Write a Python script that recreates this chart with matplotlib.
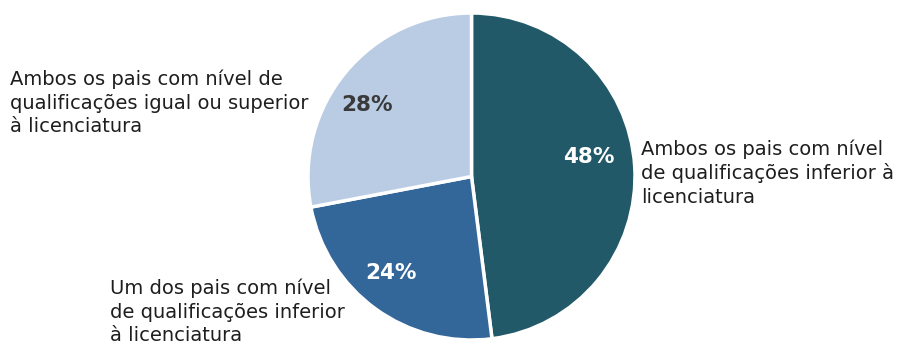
import matplotlib.pyplot as plt

# shares of each group, in drawing order (clockwise from the top)
labels = [
    "Ambos os pais com nível\nde qualificações inferior à\nlicenciatura",
    "Um dos pais com nível\nde qualificações inferior\nà licenciatura",
    "Ambos os pais com nível de\nqualificações igual ou superior\nà licenciatura",
]
shares = [48, 24, 28]
colors = ["#225968", "#336699", "#B9CCE4"]
pct_colors = ["white", "white", "#3A3A3A"]

plt.rcParams["font.family"] = ["DejaVu Sans"]

W, H = 897, 345
fig = plt.figure(figsize=(W / 100, H / 100), dpi=100)
fig.patch.set_facecolor("white")

cx, cy, r = 471.5, 176.5, 163.5
ax = fig.add_axes([(cx - r) / W, (H - cy - r) / H, 2 * r / W, 2 * r / H])
wedges, _, autotexts = ax.pie(
    shares,
    colors=colors,
    startangle=90,
    counterclock=False,
    autopct="%d%%",
    pctdistance=0.76,
    wedgeprops={"edgecolor": "white", "linewidth": 2.5, "clip_on": False},
)
# nudge the percentage labels to where they sit in the layout
pct_pos = [(0.72, 0.12), (-0.49, -0.59), (-0.64, 0.44)]
for t, c, p in zip(autotexts, pct_colors, pct_pos):
    t.set_position(p)
    t.set_color(c)
    t.set_fontsize(15.5)
    t.set_fontweight("bold")
ax.set_xlim(-1.0, 1.0)
ax.set_ylim(-1.0, 1.0)
ax.set_aspect("equal")
ax.axis("off")

# category labels around the pie (x = left edge, y = block centre)
label_pos = [(641, 173), (110, 312), (10, 103)]
for text, (x, y) in zip(labels, label_pos):
    fig.text(x / W, 1 - y / H, text, ha="left", va="center",
             fontsize=14, color="#1E1E1E", linespacing=1.3)

fig.savefig("out.png", dpi=100, facecolor="white")
